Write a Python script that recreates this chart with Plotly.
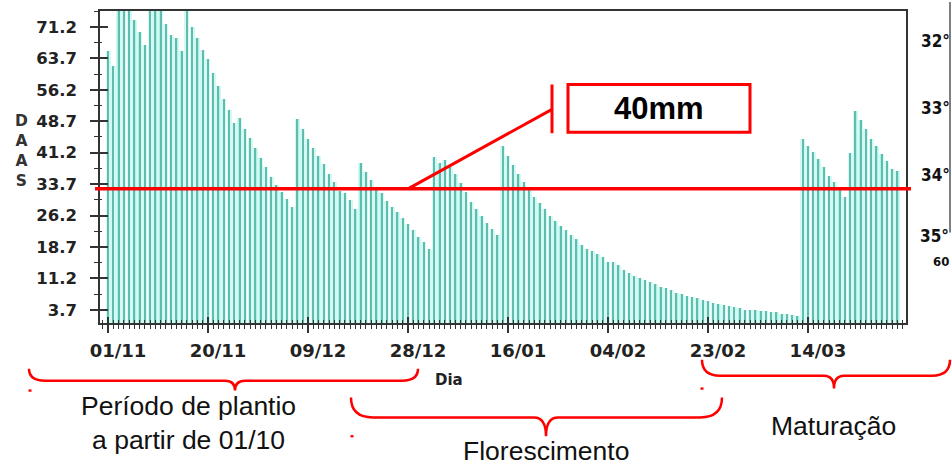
import pandas as pd
import plotly.graph_objects as go

# ---------------- data ----------------
start_date = "2012-11-01"
daas_mm = [
    65.5, 61.8, 79.0, 78.0, 77.0, 72.8, 70.0, 66.9, 80.0, 78.0,
    76.0, 72.0, 69.3, 68.6, 65.5, 77.0, 71.2, 68.6, 65.7, 63.6,
    60.2, 57.0, 54.1, 51.3, 48.3, 49.4, 46.9, 44.6, 42.4, 40.0,
    37.8, 35.5, 33.5, 31.7, 30.2, 28.3, 49.3, 46.8, 44.4, 42.2,
    40.4, 38.5, 36.1, 34.1, 32.1, 31.5, 29.8, 27.8, 38.8, 36.6,
    34.7, 32.9, 31.5, 29.6, 28.3, 27.0, 25.7, 24.1, 22.7, 21.1,
    19.8, 18.3, 40.2, 38.8, 39.5, 37.7, 36.1, 34.0, 31.7, 29.5,
    27.8, 26.0, 24.4, 23.1, 21.5, 42.8, 40.4, 38.2, 36.1, 34.1,
    32.3, 30.5, 29.1, 27.8, 26.2, 25.0, 23.7, 22.7, 21.5, 20.7,
    19.1, 18.1, 17.7, 17.1, 16.3, 15.1, 15.1, 14.4, 13.3, 12.4,
    11.8, 11.4, 10.8, 10.4, 9.9, 9.2, 8.8, 8.4, 7.8, 7.4,
    7.1, 6.7, 6.5, 6.1, 5.7, 5.3, 5.1, 4.9, 4.5, 4.3,
    4.1, 3.7, 3.7, 3.7, 3.3, 3.3, 3.1, 3.1, 2.7, 2.7,
    2.5, 2.3, 44.4, 42.8, 41.4, 39.6, 37.7, 35.7, 34.1, 32.5,
    30.7, 41.0, 51.1, 49.1, 46.8, 44.4, 42.8, 40.8, 39.2, 37.3,
    36.9,
]
y_tick_vals = [3.7, 11.2, 18.7, 26.2, 33.7, 41.2, 48.7, 56.2, 63.7, 71.2]
y_tick_text = ["3.7", "11.2", "18.7", "26.2", "33.7", "41.2", "48.7", "56.2", "63.7", "71.2"]
x_tick_step_days = 19
threshold_mm = 32.6
threshold_label = "40mm"
y_title = "D<br>A<br>A<br>S"
x_title = "Dia"
phase_labels = ["Período de plantio<br>a partir de 01/10", "Florescimento", "Maturação"]
map_labels = ["32°", "33°", "34°", "35°", "60"]

# ---------------- geometry ----------------
W_FIG, H_FIG = 952, 476
L, T, W, H = 100, 9, 806, 314
DAY_MS = 86400000

start = pd.Timestamp(start_date)
days = pd.date_range(start, periods=len(daas_mm), freq="D")
x_range = [start + pd.Timedelta(days=-1.52), start + pd.Timedelta(days=151.63)]
y_range = [0.55, 75]


def px(x):
    return (x - L) / W


def py(y):
    return (T + H - y) / H


RED = "#ff0000"
AX = "#333333"

fig = go.Figure()
bar_layers = [(0.95, "#d4f9f3"), (0.45, "#b0f0e5"), (0.2, "#5ebdaf")]
for frac, col in bar_layers:
    fig.add_trace(go.Bar(x=days, y=daas_mm, width=frac * DAY_MS,
                         marker=dict(color=col, line_width=0, opacity=1),
                         hoverinfo="skip", showlegend=False))
# helper trace for the inner half of the crossing ticks
fig.add_trace(go.Scatter(x=days, y=daas_mm, xaxis="x2", yaxis="y2", mode="markers",
                         marker=dict(opacity=0), hoverinfo="skip", showlegend=False))

tickfont_x = dict(family="DejaVu Sans", size=18, color="#222222", weight="bold")
tickfont_y = dict(family="DejaVu Sans", size=16.5, color="#222222", weight="bold")
minor_y_vals = [v + 3.75 for v in y_tick_vals]

fig.update_layout(
    width=W_FIG, height=H_FIG,
    margin=dict(l=L, r=W_FIG - L - W, t=T, b=H_FIG - T - H, pad=0),
    paper_bgcolor="white", plot_bgcolor="white",
    barmode="overlay", bargap=0, showlegend=False,
    xaxis=dict(type="date", range=x_range, showgrid=False, zeroline=False,
               showline=True, linecolor=AX, linewidth=1.5, mirror=True,
               ticks="outside", ticklen=8, tickwidth=1.5, tickcolor=AX,
               tick0=start, dtick=x_tick_step_days * DAY_MS, tickformat="%d/%m",
               tickfont=tickfont_x, ticklabelshift=10, ticklabelstandoff=3,
               minor=dict(ticks="outside", ticklen=4, tickwidth=1.1, tickcolor=AX,
                          tick0=start, dtick=DAY_MS, showgrid=False)),
    yaxis=dict(range=y_range, showgrid=False, zeroline=False,
               showline=True, linecolor=AX, linewidth=1.5, mirror=True,
               tickmode="array", tickvals=y_tick_vals, ticktext=y_tick_text,
               ticks="outside", ticklen=8, tickwidth=1.5, tickcolor=AX,
               tickfont=tickfont_y, ticklabelstandoff=10,
               minor=dict(ticks="outside", ticklen=4, tickwidth=1.1, tickcolor=AX,
                          tickmode="array", tickvals=minor_y_vals, showgrid=False)),
    xaxis2=dict(type="date", range=x_range, overlaying="x", anchor="y2", side="bottom",
                showgrid=False, zeroline=False, showline=False, showticklabels=False,
                ticks="inside", ticklen=6, tickwidth=1.5, tickcolor=AX,
                tick0=start, dtick=x_tick_step_days * DAY_MS,
                minor=dict(ticks="inside", ticklen=3, tickwidth=1.1, tickcolor=AX,
                           tick0=start, dtick=DAY_MS, showgrid=False)),
    yaxis2=dict(range=y_range, overlaying="y", anchor="x2", side="left",
                showgrid=False, zeroline=False, showline=False, showticklabels=False,
                tickmode="array", tickvals=y_tick_vals,
                ticks="inside", ticklen=8, tickwidth=1.5, tickcolor=AX,
                minor=dict(ticks="inside", ticklen=2, tickwidth=1.1, tickcolor=AX,
                           tickmode="array", tickvals=minor_y_vals, showgrid=False)),
)

shapes = []
# threshold line
shapes.append(dict(type="line", xref="paper", yref="y", x0=px(95), x1=px(911),
                   y0=threshold_mm, y1=threshold_mm, line=dict(color=RED, width=3.5)))
# callout
shapes.append(dict(type="line", xref="paper", yref="paper", x0=px(408), y0=py(188),
                   x1=px(552), y1=py(108), line=dict(color=RED, width=3)))
shapes.append(dict(type="line", xref="paper", yref="paper", x0=px(552), y0=py(83),
                   x1=px(552), y1=py(132), line=dict(color=RED, width=3)))
shapes.append(dict(type="rect", xref="paper", yref="paper", x0=px(568), y0=py(83),
                   x1=px(750), y1=py(131), line=dict(color=RED, width=3)))


def brace(x1, x2, yend, ymid, xtip, ytip, r, rt):
    pts = [
        ("M", [(x1, yend)]),
        ("Q", [(x1, ymid), (x1 + r, ymid)]),
        ("L", [(xtip - rt, ymid)]),
        ("Q", [(xtip, ymid), (xtip, ytip)]),
        ("Q", [(xtip, ymid), (xtip + rt, ymid)]),
        ("L", [(x2 - r, ymid)]),
        ("Q", [(x2, ymid), (x2, yend)]),
    ]
    s = ""
    for cmd, pl in pts:
        s += cmd + " " + " ".join(f"{px(a):.5f},{py(b):.5f}" for a, b in pl) + " "
    return dict(type="path", xref="paper", yref="paper", path=s.strip(),
                line=dict(color=RED, width=2.5))


shapes.append(brace(29, 418, 369, 381, 235, 391, 16, 10))
shapes.append(brace(351, 722, 398, 418, 546, 437, 22, 12))
shapes.append(brace(702, 950, 360, 376, 834, 389, 18, 10))
for dx, dy in [(30, 391), (352, 437), (702, 389)]:
    shapes.append(dict(type="rect", xref="paper", yref="paper", x0=px(dx - 1.5), x1=px(dx + 1.5),
                       y0=py(dy - 1.2), y1=py(dy + 1.2), line_width=0, fillcolor=RED))
# map fragment border on the right
shapes.append(dict(type="line", xref="paper", yref="paper", x0=px(950), x1=px(950),
                   y0=py(0), y1=py(232), line=dict(color="#555555", width=1.5)))
fig.update_layout(shapes=shapes)

ann = []
ann.append(dict(text="<b>" + threshold_label + "</b>", x=px(659), y=py(107),
                font=dict(family="Liberation Sans", size=31, color="#000000")))
ann.append(dict(text=y_title, x=px(21.5), y=py(150),
                font=dict(family="DejaVu Sans", size=15.5, color="#333333", weight="bold")))
ann.append(dict(text=x_title, x=px(449), y=py(380),
                font=dict(family="DejaVu Sans", size=15, color="#222222", weight="bold")))
for lab, (ax_, ay_) in zip(phase_labels, [(188, 423.5), (546, 452), (833, 426.5)]):
    ann.append(dict(text=lab, x=px(ax_), y=py(ay_),
                    font=dict(family="Liberation Sans", size=26.5, color="#111111")))
map_font = dict(family="Liberation Sans Narrow, DejaVu Sans Condensed, Liberation Sans",
                size=17, color="#111111")
for lab, (ax_, ay_) in zip(map_labels[:4], [(935, 39), (935, 107), (935, 174), (934, 235)]):
    ann.append(dict(text="<b>" + lab + "</b>", x=px(ax_), y=py(ay_), font=map_font,
                    xanchor="center"))
ann.append(dict(text="<b>" + map_labels[4] + "</b>", x=px(951), y=py(261),
                font=dict(map_font, size=13), xanchor="right"))
for a in ann:
    a.setdefault("xanchor", "center")
    a.update(xref="paper", yref="paper", showarrow=False, yanchor="middle")
fig.update_layout(annotations=ann)

fig.write_html(
    "out.html",
    config={"displayModeBar": False},
    post_script="document.body.style.margin='0';document.body.style.overflow='hidden';",
)
